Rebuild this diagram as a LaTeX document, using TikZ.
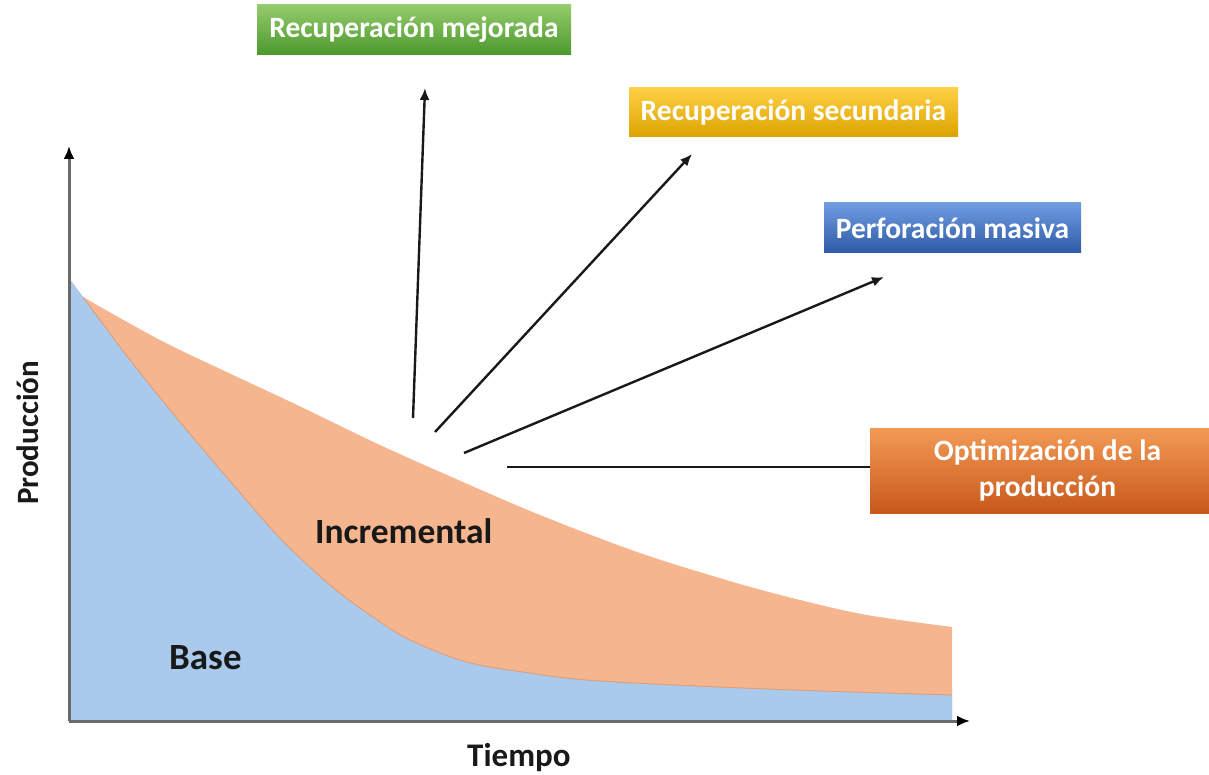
\documentclass[tikz,border=0pt]{standalone}
\usepackage{fontspec}
\setmainfont{Carlito}
\usetikzlibrary{arrows.meta}

\definecolor{baseblue}{HTML}{A9CAEC}
\definecolor{incorange}{HTML}{F5B68F}
\definecolor{seam}{HTML}{DDA07C}
\definecolor{axisgray}{HTML}{6A6A6A}
\definecolor{greenA}{HTML}{94CB6C}
\definecolor{greenB}{HTML}{4C982C}
\definecolor{goldA}{HTML}{FFD045}
\definecolor{goldB}{HTML}{DCA300}
\definecolor{blueA}{HTML}{6F9CE2}
\definecolor{blueB}{HTML}{2F5AA6}
\definecolor{orA}{HTML}{F29A56}
\definecolor{orB}{HTML}{C8581A}

\tikzset{
  label box/.style={inner sep=0pt, text=white,
    font=\fontsize{29.5}{36}\selectfont\bfseries},
  axis line/.style={draw=axisgray, line width=3pt,
    -{Latex[length=13pt,width=11pt,color=black]}},
  pointer/.style={draw=black!90, line width=2.4pt,
    -{Latex[length=12pt,width=10pt]}},
  area text/.style={font=\fontsize{35.5}{40}\selectfont\bfseries, text=black!90, inner sep=0pt},
  axis text/.style={font=\fontsize{31}{36}\selectfont\bfseries, text=black!90, inner sep=0pt}
}

\begin{document}
\begin{tikzpicture}[x=1pt,y=-1pt]
\useasboundingbox (0,0) rectangle (1209,775);

% incremental production band
\fill[incorange] plot[smooth, tension=0.55] coordinates {(83,297) (160,340) (233,375) (293,403) (380,445) (463,482) (540,515) (640,553) (733,582) (800,600) (867,615) (952,627)}
  -- (952,721) -- (68,721) -- (68,277) -- cycle;

% base production
\fill[baseblue] (68,721) -- plot[smooth, tension=0.55] coordinates {(68,277) (83,297) (130,360) (180,422) (230,481) (280,538) (330,585) (370,615) (410,640) (467,662) (530,673) (600,681) (767,689) (952,695)}
  -- (952,721) -- cycle;
\draw[seam, line width=1pt] plot[smooth, tension=0.55] coordinates {(83,297) (130,360) (180,422) (230,481) (280,538) (330,585) (370,615) (410,640) (467,662) (530,673) (600,681) (767,689) (952,695)};

% axes
\coordinate (o) at (69,721);
\coordinate (ytip) at (69,146);
\coordinate (xtip) at (970,721);
\draw[axis line] (o) -- (ytip);
\draw[axis line] (o) -- (xtip);

% area and axis labels
\node[area text, anchor=base west] (inc) at (315,543) {Incremental};
\node[area text, font=\fontsize{37}{42}\selectfont\bfseries, anchor=base west] (base) at (169,669) {Base};
\node[axis text, font=\fontsize{33}{38}\selectfont\bfseries, anchor=base west] (tiempo) at (467,766) {Tiempo};
\node[axis text, anchor=base west, rotate=90] (prod) at (38,505) {Producción};

% strategy boxes (the last one runs past the right edge of the page)
\node[label box, minimum width=314pt, minimum height=50pt,
      top color=greenA, bottom color=greenB] (mej) at (414,30) {Recuperación mejorada};
\node[label box, minimum width=329pt, minimum height=49pt,
      top color=goldA, bottom color=goldB] (sec) at (793.5,112.5) {Recuperación secundaria};
\node[label box, minimum width=257pt, minimum height=50pt,
      top color=blueA, bottom color=blueB] (perf) at (952.5,228) {Perforación masiva};
\node[label box, minimum width=355pt, minimum height=85pt, align=center,
      top color=orA, bottom color=orB] (opt) at (1047.5,470.5) {Optimización de la\\producción};

% pointers
\coordinate (s1) at (413,418);
\coordinate (e1) at (425,88);
\coordinate (s2) at (435,432);
\coordinate (e2) at (692,154);
\coordinate (s3) at (464,453);
\coordinate (e3) at (884,277);
\coordinate (s4) at (507,467);
\draw[pointer] (s1) -- (e1);
\draw[pointer] (s2) -- (e2);
\draw[pointer] (s3) -- (e3);
\draw[draw=black!90, line width=2.4pt] (s4) -- (s4 -| opt.west);
\end{tikzpicture}
\end{document}
